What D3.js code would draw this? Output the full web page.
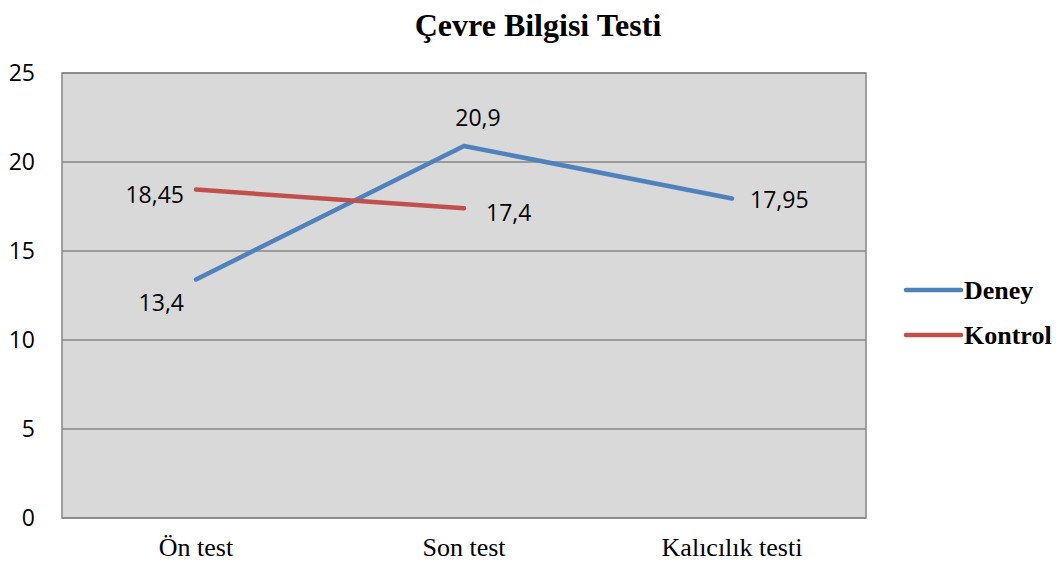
<!DOCTYPE html>
<html>
<head>
<meta charset="utf-8">
<script src="https://cdn.jsdelivr.net/npm/d3@7"></script>
<style>
  body { margin: 0; background: #fff; }
  svg text { fill: #000; }
</style>
</head>
<body>
<div id="chart"></div>
<script>
// Chart data
const categories = ["Ön test", "Son test", "Kalıcılık testi"];
const deney = [13.4, 20.9, 17.95];
const kontrol = [18.45, 17.4, null];
const yTicks = [0, 5, 10, 15, 20, 25];
const seriesNames = ["Deney", "Kontrol"];
const seriesColors = ["#4f81bd", "#c0504d"];

const width = 1061, height = 564;
const margin = { top: 73, right: 195, bottom: 46, left: 62 };

const svg = d3.select("#chart").append("svg")
  .attr("width", width)
  .attr("height", height);

const x = d3.scaleBand()
  .domain(categories)
  .range([margin.left, width - margin.right]);

const y = d3.scaleLinear()
  .domain([0, 25])
  .range([height - margin.bottom, margin.top]);

// Plot background
svg.append("rect")
  .attr("x", margin.left)
  .attr("y", margin.top)
  .attr("width", width - margin.left - margin.right)
  .attr("height", height - margin.top - margin.bottom)
  .attr("fill", "#d9d9d9")
  .attr("stroke", "#868686")
  .attr("stroke-width", 1.5);

// Gridlines
svg.append("g")
  .selectAll("line")
  .data(yTicks)
  .enter()
  .append("line")
  .attr("x1", margin.left)
  .attr("x2", width - margin.right)
  .attr("y1", d => y(d))
  .attr("y2", d => y(d))
  .attr("stroke", "#868686")
  .attr("stroke-width", 1.5);

// Y axis labels
const yAxis = d3.axisLeft(y).tickValues(yTicks).tickSize(0).tickPadding(27);
svg.append("g")
  .attr("transform", `translate(${margin.left},0)`)
  .call(yAxis)
  .call(g => g.select(".domain").remove())
  .selectAll("text")
  .attr("font-family", "'Open Sans', 'Liberation Sans', sans-serif")
  .attr("font-size", 23)
  .attr("fill", "#000");

// X axis labels
const xAxis = d3.axisBottom(x).tickSize(0).tickPadding(20);
svg.append("g")
  .attr("transform", `translate(0,${height - margin.bottom})`)
  .call(xAxis)
  .call(g => g.select(".domain").remove())
  .selectAll("text")
  .attr("font-family", "'Liberation Serif', 'Times New Roman', serif")
  .attr("font-size", 26)
  .attr("fill", "#000");

// Lines
const line = d3.line()
  .defined(d => d.v != null)
  .x(d => x(d.c) + x.bandwidth() / 2)
  .y(d => y(d.v));

const series = [deney, kontrol].map((vals, i) => ({
  name: seriesNames[i],
  color: seriesColors[i],
  points: vals.map((v, j) => ({ c: categories[j], v: v }))
}));

svg.append("g")
  .selectAll("path")
  .data(series)
  .enter()
  .append("path")
  .attr("d", d => line(d.points))
  .attr("fill", "none")
  .attr("stroke", d => d.color)
  .attr("stroke-width", 4.5)
  .attr("stroke-linecap", "round")
  .attr("stroke-linejoin", "round");

// Data labels: offsets per point [dx, dy, anchor]
const labelPos = [
  [[-12, 23, "end"], [14, -28, "middle"], [18, 1, "start"]],
  [[-12, 5, "end"], [22, 5, "start"], null]
];

series.forEach((s, i) => {
  s.points.forEach((p, j) => {
    if (p.v == null) return;
    const [dx, dy, anchor] = labelPos[i][j];
    svg.append("text")
      .attr("x", x(p.c) + x.bandwidth() / 2 + dx)
      .attr("y", y(p.v) + dy)
      .attr("dy", "0.35em")
      .attr("text-anchor", anchor)
      .attr("font-family", "'Open Sans', 'Liberation Sans', sans-serif")
      .attr("font-size", 23)
      .text(String(p.v).replace(".", ","));
  });
});

// Title
svg.append("text")
  .attr("x", (margin.left + width - margin.right) / 2 + 74)
  .attr("y", 36)
  .attr("text-anchor", "middle")
  .attr("font-family", "'Liberation Serif', 'Times New Roman', serif")
  .attr("font-weight", "bold")
  .attr("font-size", 32)
  .text("Çevre Bilgisi Testi");

// Legend
const legend = svg.append("g")
  .attr("transform", "translate(906,290)");

legend.selectAll("g")
  .data(series)
  .enter()
  .append("g")
  .attr("transform", (d, i) => `translate(0,${i * 45})`)
  .each(function(d) {
    const g = d3.select(this);
    g.append("line")
      .attr("x1", 0).attr("x2", 55)
      .attr("y1", 0).attr("y2", 0)
      .attr("stroke", d.color)
      .attr("stroke-width", 4.5)
      .attr("stroke-linecap", "round");
    g.append("text")
      .attr("x", 58)
      .attr("y", 0)
      .attr("dy", "0.35em")
      .attr("font-family", "'Liberation Serif', 'Times New Roman', serif")
      .attr("font-weight", "bold")
      .attr("font-size", 26)
      .text(d.name);
  });
</script>
</body>
</html>
